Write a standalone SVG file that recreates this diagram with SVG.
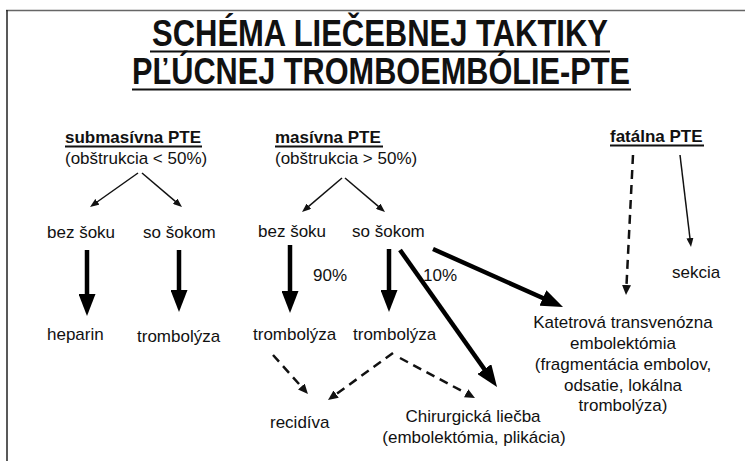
<svg xmlns="http://www.w3.org/2000/svg" width="745" height="461" viewBox="0 0 745 461">
<style>
  text { font-family: "Liberation Sans", Arial, sans-serif; fill: #111; }
  .title { font-size: 36px; font-weight: bold; text-anchor: middle; }
  .head { font-size: 17px; font-weight: bold; }
  .t { font-size: 17px; }
  .c { text-anchor: middle; }
  .ul { stroke: #111; stroke-width: 2; }
  .thin { stroke: #111; stroke-width: 1.5; fill: none; marker-end: url(#mThin); }
  .thick { stroke: #000; stroke-width: 4.5; fill: none; marker-end: url(#mThick); }
  .dash { stroke: #111; stroke-width: 2.5; stroke-dasharray: 9 6; fill: none; marker-end: url(#mDash); }
</style>
<defs>
  <marker id="mThin" markerUnits="userSpaceOnUse" markerWidth="9" markerHeight="7" refX="3" refY="3.5" orient="auto"><path d="M0,0 L9,3.5 L0,7 z" fill="#111"/></marker>
  <marker id="mThick" markerUnits="userSpaceOnUse" markerWidth="22" markerHeight="17" refX="6" refY="8.5" orient="auto"><path d="M0,0 L22,8.5 L0,17 z" fill="#000"/></marker>
  <marker id="mDash" markerUnits="userSpaceOnUse" markerWidth="10" markerHeight="9" refX="3" refY="4.5" orient="auto"><path d="M0,0 L10,4.5 L0,9 z" fill="#111"/></marker>
</defs>
<rect width="745" height="461" fill="#fff"/>
<g id="frame">
  <line x1="6" y1="10.5" x2="745" y2="10.5" stroke="#666" stroke-width="1.5"/>
  <line x1="7" y1="10" x2="7" y2="461" stroke="#222" stroke-width="1.5"/>
</g>
<g id="title">
  <text class="title" x="380" y="46" textLength="456" lengthAdjust="spacingAndGlyphs">SCHÉMA LIEČEBNEJ TAKTIKY</text>
  <line class="ul" x1="150" y1="51.5" x2="610" y2="51.5" stroke-width="2.5"/>
  <text class="title" x="381" y="84" textLength="498" lengthAdjust="spacingAndGlyphs">PĽÚCNEJ TROMBOEMBÓLIE-PTE</text>
  <line class="ul" x1="132" y1="89.5" x2="631" y2="89.5" stroke-width="2.5"/>
</g>
<g id="submasivna">
  <text class="head" x="65" y="143">submasívna PTE</text>
  <line class="ul" x1="65" y1="146.5" x2="202" y2="146.5" stroke-width="1.5"/>
  <text class="t" x="65" y="164">(obštrukcia &lt; 50%)</text>
</g>
<g id="masivna">
  <text class="head" x="275" y="143">masívna PTE</text>
  <line class="ul" x1="275" y1="146.5" x2="383" y2="146.5" stroke-width="1.5"/>
  <text class="t" x="275" y="164">(obštrukcia &gt; 50%)</text>
</g>
<g id="fatalna">
  <text class="head" x="610" y="142">fatálna PTE</text>
  <line class="ul" x1="610" y1="145.5" x2="704" y2="145.5" stroke-width="1.5"/>
</g>
<g id="sub-bez-soku"><text class="t" x="47" y="238">bez šoku</text></g>
<g id="sub-so-sokom"><text class="t" x="143" y="238">so šokom</text></g>
<g id="mas-bez-soku"><text class="t" x="258" y="237">bez šoku</text></g>
<g id="mas-so-sokom"><text class="t" x="352" y="237">so šokom</text></g>
<g id="heparin"><text class="t" x="47" y="340">heparin</text></g>
<g id="sub-trombolyza"><text class="t" x="137" y="342">trombolýza</text></g>
<g id="mas-trombolyza-1"><text class="t" x="253" y="340">trombolýza</text></g>
<g id="mas-trombolyza-2"><text class="t" x="353" y="340">trombolýza</text></g>
<g id="recidiva"><text class="t" x="270" y="428">recidíva</text></g>
<g id="chirurgicka">
  <text class="t c" x="473" y="422">Chirurgická liečba</text>
  <text class="t c" x="474" y="443">(embolektómia, plikácia)</text>
</g>
<g id="katetrova">
  <text class="t c" x="623" y="328">Katetrová transvenózna</text>
  <text class="t c" x="623" y="349">embolektómia</text>
  <text class="t c" x="623" y="370">(fragmentácia embolov,</text>
  <text class="t c" x="623" y="391">odsatie, lokálna</text>
  <text class="t c" x="623" y="411">trombolýza)</text>
</g>
<g id="sekcia"><text class="t" x="672" y="278">sekcia</text></g>
<g id="connectors">
  <line class="thin" x1="138" y1="173" x2="94.9" y2="203.5"/>
  <line class="thin" x1="142" y1="173" x2="177.4" y2="203.1"/>
  <line class="thin" x1="342" y1="178" x2="306.6" y2="208.1"/>
  <line class="thin" x1="345" y1="178" x2="380.4" y2="208.1"/>
  <line class="thin" x1="680" y1="155" x2="690.3" y2="241"/>
  <line class="thick" x1="87" y1="250" x2="87" y2="300"/>
  <line class="thick" x1="179" y1="250" x2="179" y2="296"/>
  <line class="thick" x1="290" y1="245" x2="290" y2="297"/>
  <line class="thick" x1="389" y1="249" x2="389" y2="296"/>
  <line class="thick" x1="400" y1="250" x2="487.8" y2="374"/>
  <line class="thick" x1="433" y1="249" x2="548.4" y2="300.5"/>
  <line class="dash" x1="273" y1="355" x2="303.3" y2="388.8"/>
  <line class="dash" x1="393" y1="353" x2="333.7" y2="395.9"/>
  <line class="dash" x1="400" y1="358" x2="468.8" y2="394.7"/>
  <line class="dash" x1="633" y1="155" x2="626.35" y2="288"/>
  <text class="t" x="313" y="281">90%</text>
  <text class="t" x="423" y="281">10%</text>
</g>
</svg>
